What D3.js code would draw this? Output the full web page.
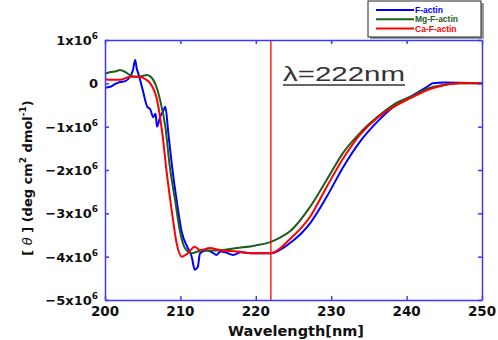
<!DOCTYPE html>
<html>
<head>
<meta charset="utf-8">
<script src="https://cdn.jsdelivr.net/npm/d3@7"></script>
<style>
  body { margin: 0; background: #fff; }
  svg { display: block; }
</style>
</head>
<body>
<div id="chart"></div>
<script>
// series names and colours
var seriesNames = ["F-actin", "Mg-F-actin", "Ca-F-actin"];
var seriesColors = ["#0000ff", "#1d5e1d", "#ff0000"];

// F-actin (values in 10^6 units)
var wlF = [200, 200.7, 201.3, 202, 202.7, 203.3, 203.7, 204, 204.2, 204.4, 205, 205.6, 206, 206.4, 206.7, 206.9, 207.3, 207.7, 208, 208.4, 208.9, 209.5, 210.2, 210.9, 211.5, 211.9, 212.3, 212.6, 213.5, 214.2, 214.8, 215.3, 216, 217, 218, 219.3, 221.5, 222, 224.5, 227.2, 229.4, 231.6, 233.8, 236.1, 238.2, 240.5, 242.7, 243.5, 245, 250];
var valF = [-0.1, -0.08, -0.02, 0.03, 0.05, 0.15, 0.3, 0.54, 0.35, 0.24, -0.15, -0.54, -0.6, -0.78, -0.7, -1.0, -0.78, -0.65, -0.54, -1.15, -1.93, -2.7, -3.45, -3.77, -4.0, -4.3, -4.24, -3.92, -3.85, -3.9, -3.96, -3.88, -3.9, -3.96, -3.9, -3.92, -3.92, -3.92, -3.69, -3.23, -2.62, -1.93, -1.35, -0.89, -0.55, -0.31, -0.08, 0, 0.02, 0];

// Mg-F-actin
var wlMg = [200, 200.7, 201.5, 202, 202.7, 203.3, 204.2, 205, 205.6, 206, 206.4, 206.9, 207.3, 208, 208.6, 209.3, 209.9, 210.6, 211.5, 212.3, 213, 214, 215.3, 217.5, 220, 222, 223.2, 224.5, 227.2, 229.4, 231.6, 233.8, 236.1, 238.2, 240.5, 242.7, 244.8, 247, 250];
var valMg = [0.22, 0.26, 0.28, 0.31, 0.26, 0.19, 0.15, 0.17, 0.19, 0.16, 0.08, -0.12, -0.38, -1.0, -1.93, -2.7, -3.38, -3.8, -3.92, -3.88, -3.85, -3.86, -3.85, -3.8, -3.74, -3.66, -3.56, -3.42, -2.85, -2.23, -1.6, -1.15, -0.78, -0.5, -0.31, -0.13, -0.04, 0, 0];

// Ca-F-actin
var wlCa = [200, 200.7, 202, 203.3, 204.6, 205.3, 206, 206.9, 207.6, 208.2, 208.9, 209.5, 210.2, 211, 211.9, 212.6, 213.9, 215.3, 217.5, 219.6, 222, 224.5, 227.2, 229.4, 231.6, 233.8, 236.1, 238.2, 240.5, 242.7, 244.8, 247, 250];
var valCa = [0.1, 0.08, 0.08, 0.15, 0.15, 0.1, 0.0, -0.38, -1.15, -2.08, -3.0, -3.69, -4.0, -3.92, -3.77, -3.85, -3.8, -3.85, -3.88, -3.92, -3.92, -3.6, -3.08, -2.39, -1.73, -1.19, -0.8, -0.55, -0.34, -0.16, -0.05, 0, 0];

// ticks
var xTicks = [200, 210, 220, 230, 240, 250];
var yTicks = [1, 0, -1, -2, -3, -4, -5];
var markerWl = 222;

var W = 498, H = 340;
var plot = { left: 105, right: 482, top: 40, bottom: 300 };

var svg = d3.select('#chart').append('svg')
    .attr('width', W)
    .attr('height', H);

var x = d3.scaleLinear().domain([200, 250]).range([plot.left, plot.right]);
var y = d3.scaleLinear().domain([-5, 1]).range([plot.bottom, plot.top]);

var series = [
    { name: seriesNames[0], color: seriesColors[0], wl: wlF, v: valF },
    { name: seriesNames[1], color: seriesColors[1], wl: wlMg, v: valMg },
    { name: seriesNames[2], color: seriesColors[2], wl: wlCa, v: valCa }
];

var line = d3.line()
    .x(function (d) { return x(d[0]); })
    .y(function (d) { return y(d[1]); })
    .curve(d3.curveMonotoneX);

// curves
svg.append('g').selectAll('path')
    .data(series)
    .enter().append('path')
        .attr('d', function (s) { return line(s.wl.map(function (w, i) { return [w, s.v[i]]; })); })
        .attr('fill', 'none')
        .attr('stroke', function (s) { return s.color; })
        .attr('stroke-width', 2)
        .attr('stroke-linejoin', 'round');

// red marker line at 222 nm
svg.append('line')
    .attr('x1', x(markerWl)).attr('x2', x(markerWl))
    .attr('y1', plot.top).attr('y2', plot.bottom)
    .attr('stroke', '#ff0000')
    .attr('stroke-width', 1.3);

// axes frame + inward ticks
var axisColor = '#3a3aff';
var tickLen = 4;
var axes = svg.append('g');
axes.append('g')
    .attr('transform', 'translate(0,' + plot.bottom + ')')
    .call(d3.axisBottom(x).tickValues(xTicks).tickSizeInner(-tickLen).tickSizeOuter(0).tickFormat(''));
axes.append('g')
    .attr('transform', 'translate(0,' + plot.top + ')')
    .call(d3.axisTop(x).tickValues(xTicks).tickSizeInner(-tickLen).tickSizeOuter(0).tickFormat(''));
axes.append('g')
    .attr('transform', 'translate(' + plot.left + ',0)')
    .call(d3.axisLeft(y).tickValues(yTicks).tickSizeInner(-tickLen).tickSizeOuter(0).tickFormat(''));
axes.append('g')
    .attr('transform', 'translate(' + plot.right + ',0)')
    .call(d3.axisRight(y).tickValues(yTicks).tickSizeInner(-tickLen).tickSizeOuter(0).tickFormat(''));
axes.selectAll('.domain, .tick line')
    .attr('stroke', axisColor)
    .attr('stroke-width', 1.5);

// tick labels
var labelFont = 'DejaVu Sans, Arial, sans-serif';
svg.append('g').selectAll('text')
    .data(xTicks)
    .enter().append('text')
        .attr('x', function (d) { return x(d); })
        .attr('y', 316)
        .attr('text-anchor', 'middle')
        .attr('font-family', labelFont)
        .attr('font-weight', 'bold')
        .attr('font-size', 13.5)
        .attr('fill', '#111')
        .text(function (d) { return d; });

var yLab = svg.append('g').selectAll('text')
    .data(yTicks)
    .enter().append('text')
        .attr('x', 98)
        .attr('y', function (d) { return y(d) + 5; })
        .attr('text-anchor', 'end')
        .attr('font-family', labelFont)
        .attr('font-weight', 'bold')
        .attr('font-size', 13)
        .attr('fill', '#111');
yLab.each(function (d) {
    var t = d3.select(this);
    if (d === 0) { t.text('0'); return; }
    t.append('tspan').text((d < 0 ? '\u2212' : '') + Math.abs(d) + 'x10');
    t.append('tspan').attr('dy', -6).attr('font-size', 9).text('6');
});

// axis titles
svg.append('text')
    .attr('x', 296)
    .attr('y', 336)
    .attr('text-anchor', 'middle')
    .attr('font-family', labelFont)
    .attr('font-weight', 'bold')
    .attr('font-size', 14.5)
    .attr('fill', '#111')
    .text('Wavelength[nm]');

var yTitle = svg.append('text')
    .attr('transform', 'translate(32,178) rotate(-90)')
    .attr('text-anchor', 'middle')
    .attr('font-family', labelFont)
    .attr('font-size', 13)
    .attr('fill', '#111');
yTitle.append('tspan').attr('font-weight', 'bold').text('[ ');
yTitle.append('tspan').attr('font-style', 'italic').text('\u03b8');
yTitle.append('tspan').attr('font-weight', 'bold').text(' ] (deg cm');
yTitle.append('tspan').attr('dy', -6).attr('font-size', 9).attr('font-weight', 'bold').text('2');
yTitle.append('tspan').attr('dy', 6).attr('font-weight', 'bold').text(' dmol');
yTitle.append('tspan').attr('dy', -6).attr('font-size', 9).attr('font-weight', 'bold').text('-1');
yTitle.append('tspan').attr('dy', 6).attr('font-weight', 'bold').text(')');

// annotation
svg.append('text')
    .attr('x', 283)
    .attr('y', 81)
    .attr('font-family', 'Liberation Sans, Arial, sans-serif')
    .attr('font-size', 20)
    .attr('fill', '#333')
    .attr('textLength', 122)
    .attr('lengthAdjust', 'spacingAndGlyphs')
    .text('\u03bb=222nm');
svg.append('line')
    .attr('x1', 283).attr('x2', 405)
    .attr('y1', 85).attr('y2', 85)
    .attr('stroke', '#333')
    .attr('stroke-width', 1.5);

// legend
var lg = svg.append('g');
lg.append('rect')
    .attr('x', 370).attr('y', 3).attr('width', 114).attr('height', 36)
    .attr('fill', '#999');
lg.append('rect')
    .attr('x', 368).attr('y', 1).attr('width', 113).attr('height', 36)
    .attr('fill', '#fff')
    .attr('stroke', '#222')
    .attr('stroke-width', 1);
var items = lg.selectAll('g.item')
    .data(series)
    .enter().append('g')
        .attr('class', 'item')
        .attr('transform', function (d, i) { return 'translate(0,' + (10 + i * 9.3) + ')'; });
items.append('line')
    .attr('x1', 376).attr('x2', 414)
    .attr('stroke', function (d) { return d.color; })
    .attr('stroke-width', 2);
items.append('text')
    .attr('x', 415)
    .attr('y', 3)
    .attr('font-family', 'Liberation Sans, Arial, sans-serif')
    .attr('font-weight', 'bold')
    .attr('font-size', 8.5)
    .attr('fill', function (d) { return d.color; })
    .text(function (d) { return d.name; });
</script>
</body>
</html>
